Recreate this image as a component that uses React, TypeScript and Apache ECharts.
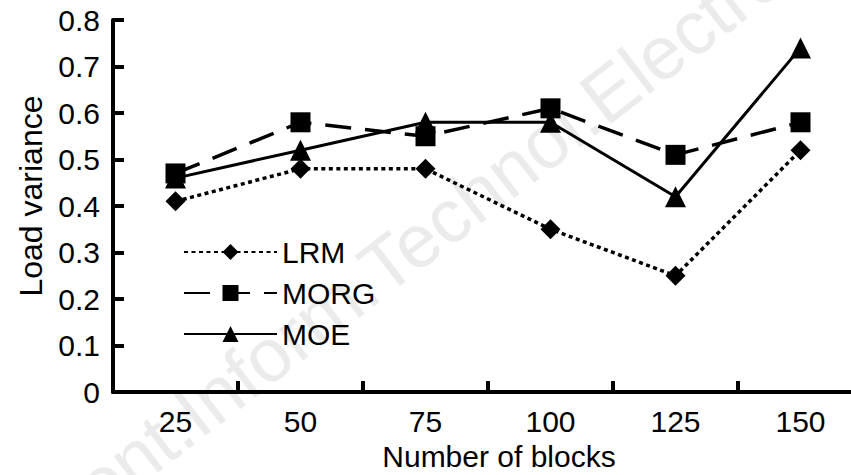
import React, { useEffect, useRef } from "react";
import * as echarts from "echarts";

const categories = ["25", "50", "75", "100", "125", "150"];
const lrmValues = [0.41, 0.48, 0.48, 0.35, 0.25, 0.52];
const morgValues = [0.47, 0.58, 0.55, 0.61, 0.51, 0.58];
const moeValues = [0.46, 0.52, 0.58, 0.58, 0.42, 0.74];
const seriesNames = ["LRM", "MORG", "MOE"];
const xAxisTitle = "Number of blocks";
const yAxisTitle = "Load variance";
const watermarkText = "Front.Inform.Technol.Electron.";

const FONT = 'Arial, "Liberation Sans", sans-serif';

export default function App() {
  const ref = useRef<HTMLDivElement>(null);
  useEffect(() => {
    if (!ref.current) return;
    const chart = echarts.init(ref.current, undefined, { renderer: "svg" });
    chart.setOption({
      animation: false,
      backgroundColor: "#fff",
      textStyle: { fontFamily: FONT },
      graphic: [
        {
          type: "text",
          x: 29,
          y: 539,
          rotation: 0.656,
          z: 0,
          silent: true,
          style: {
            text: watermarkText,
            fontSize: 75,
            fontFamily: FONT,
            fill: "#ebebeb",
            textAlign: "left",
            textVerticalAlign: "middle",
          },
        },
      ],
      grid: {
        left: 113,
        right: -12,
        top: 20,
        bottom: 83,
        containLabel: false,
        outerBoundsMode: "none",
      },
      legend: {
        data: seriesNames,
        orient: "vertical",
        left: 178,
        top: 232,
        itemWidth: 93,
        itemHeight: 20,
        itemGap: 11,
        textStyle: { fontSize: 30, color: "#000", fontFamily: FONT, lineHeight: 30 },
      },
      xAxis: {
        type: "category",
        data: categories,
        boundaryGap: true,
        name: xAxisTitle,
        nameLocation: "middle",
        nameGap: 51,
        nameMoveOverlap: false,
        nameTextStyle: {
          fontSize: 30,
          lineHeight: 26,
          color: "#000",
          fontFamily: FONT,
          verticalAlign: "top",
          padding: [0, 0, 0, 22],
        },
        axisLine: { show: true, lineStyle: { color: "#000", width: 4 } },
        axisTick: { show: true, inside: true, length: 11, lineStyle: { color: "#000", width: 4 } },
        axisLabel: { fontSize: 30, lineHeight: 24, color: "#000", margin: 17, fontFamily: FONT },
        splitLine: { show: false },
      },
      yAxis: {
        type: "value",
        min: 0,
        max: 0.8,
        interval: 0.1,
        name: yAxisTitle,
        nameLocation: "middle",
        nameGap: 66,
        nameMoveOverlap: false,
        nameTextStyle: {
          fontSize: 32,
          color: "#000",
          fontFamily: FONT,
          padding: [0, 0, 0, 20],
        },
        axisLine: { show: true, lineStyle: { color: "#000", width: 4 } },
        axisTick: { show: true, inside: true, length: 11, lineStyle: { color: "#000", width: 4 } },
        axisLabel: { fontSize: 30, color: "#000", margin: 13, fontFamily: FONT },
        splitLine: { show: false },
      },
      series: [
        {
          name: seriesNames[0],
          type: "line",
          data: lrmValues,
          symbol: "diamond",
          symbolSize: 20,
          z: 3,
          itemStyle: { color: "#000" },
          lineStyle: { color: "#000", width: 3.5, type: [4, 3.5] },
        },
        {
          name: seriesNames[1],
          type: "line",
          data: morgValues,
          symbol: "rect",
          symbolSize: 20,
          z: 4,
          itemStyle: { color: "#000" },
          lineStyle: { color: "#000", width: 3.5, type: [26, 14] },
        },
        {
          name: seriesNames[2],
          type: "line",
          data: moeValues,
          symbol: "triangle",
          symbolSize: 21,
          z: 5,
          itemStyle: { color: "#000" },
          lineStyle: { color: "#000", width: 3, type: "solid" },
        },
      ],
    });
    return () => chart.dispose();
  }, []);
  return (
    <div
      ref={ref}
      style={{ position: "fixed", left: 0, top: 0, width: 851, height: 475, background: "#fff" }}
    />
  );
}
